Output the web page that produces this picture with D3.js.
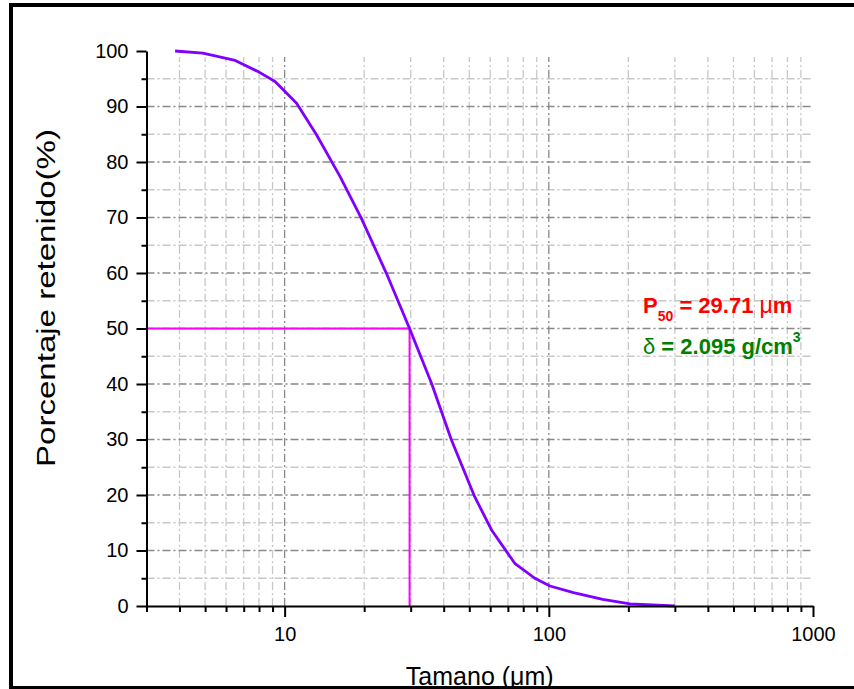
<!DOCTYPE html>
<html>
<head>
<meta charset="utf-8">
<script src="https://cdn.jsdelivr.net/npm/d3@7"></script>
<style>
  html, body { margin: 0; padding: 0; background: #fff; }
  svg { display: block; font-family: Arial, "Liberation Sans", sans-serif; }
</style>
</head>
<body>
<svg id="chart" width="854" height="689"></svg>
<script>
// ---- data ----
const sizes    = [3.85, 4.9, 6.5, 8.0, 9.2, 11.1, 13.2, 16.2, 19.5, 24.3, 29.71, 36.0, 42.8, 52.4, 60.7, 74.3, 88.5, 101, 124, 160, 203, 300];
const retained = [100, 99.6, 98.3, 96.2, 94.5, 90.6, 84.9, 77.4, 69.9, 59.9, 50.0, 40.1, 29.9, 19.7, 13.7, 7.7, 5.0, 3.6, 2.4, 1.2, 0.4, 0];
const xMajorTicks = [10, 100, 1000];
const xMinorTicks = [3, 4, 5, 6, 7, 8, 9, 20, 30, 40, 50, 60, 70, 80, 90, 200, 300, 400, 500, 600, 700, 800, 900];
const yMajorTicks = [0, 10, 20, 30, 40, 50, 60, 70, 80, 90, 100];
const yMinorTicks = [5, 15, 25, 35, 45, 55, 65, 75, 85, 95];
const p50 = 29.71;
const p50Level = 50;
const xTitle = "Tamano (\u03bcm)";
const yTitle = "Porcentaje retenido(%)";

// ---- layout ----
const svg = d3.select("#chart");
const L = 146.5, R = 813, T = 51, B = 606;
const x = d3.scaleLog().domain([3, 1000]).range([L, R]);
const y = d3.scaleLinear().domain([0, 100]).range([B, T]);

// outer frame
svg.append("line").attr("x1", 11).attr("x2", 11).attr("y1", 3).attr("y2", 689).attr("stroke", "#000").attr("stroke-width", 4);
svg.append("line").attr("x1", 9).attr("x2", 854).attr("y1", 5).attr("y2", 5).attr("stroke", "#000").attr("stroke-width", 4);
svg.append("line").attr("x1", 9).attr("x2", 854).attr("y1", 687.5).attr("y2", 687.5).attr("stroke", "#000").attr("stroke-width", 3);

// grid
const grid = svg.append("g");
const dash = "8,3,2,3";
const xGridMinor = xMinorTicks.filter(v => v > 3);
grid.selectAll(".vgm").data(xGridMinor).join("line")
  .attr("x1", d => x(d)).attr("x2", d => x(d)).attr("y1", B).attr("y2", T + 6)
  .attr("stroke", "#c8c8c8").attr("stroke-width", 1.3).attr("stroke-dasharray", dash);
grid.selectAll(".hgm").data(yMinorTicks).join("line")
  .attr("x1", L).attr("x2", 811).attr("y1", d => y(d)).attr("y2", d => y(d))
  .attr("stroke", "#c8c8c8").attr("stroke-width", 1.3).attr("stroke-dasharray", dash);
grid.selectAll(".vgM").data(xMajorTicks.filter(v => v < 1000)).join("line")
  .attr("x1", d => x(d)).attr("x2", d => x(d)).attr("y1", B).attr("y2", T + 6)
  .attr("stroke", "#888").attr("stroke-width", 1.3).attr("stroke-dasharray", dash);
grid.selectAll(".hgM").data(yMajorTicks.filter(v => v > 0 && v < 100)).join("line")
  .attr("x1", L).attr("x2", 811).attr("y1", d => y(d)).attr("y2", d => y(d))
  .attr("stroke", "#888").attr("stroke-width", 1.3).attr("stroke-dasharray", dash);

// P50 guide lines
svg.append("line").attr("x1", L).attr("x2", x(p50)).attr("y1", y(p50Level)).attr("y2", y(p50Level))
  .attr("stroke", "#ff00ff").attr("stroke-width", 2);
svg.append("line").attr("x1", x(p50)).attr("x2", x(p50)).attr("y1", y(p50Level)).attr("y2", y(0))
  .attr("stroke", "#ff00ff").attr("stroke-width", 2);

// curve
const pts = sizes.map((s, i) => [s, retained[i]]);
svg.append("path").datum(pts)
  .attr("d", d3.line().x(d => x(d[0])).y(d => y(d[1])))
  .attr("fill", "none").attr("stroke", "#8000ff").attr("stroke-width", 2.8).attr("stroke-linejoin", "round");

// axes
function styleAxis(g) {
  g.selectAll("path").attr("stroke", "#000").attr("stroke-width", 2);
  g.selectAll("line").attr("stroke", "#000").attr("stroke-width", 2);
  g.selectAll("text").attr("fill", "#000").attr("font-size", 20).attr("font-family", "Arial, 'Liberation Sans', sans-serif");
}
const xAxisMinor = svg.append("g").attr("transform", `translate(0,${B})`)
  .call(d3.axisBottom(x).tickValues(xMinorTicks).tickSize(6).tickSizeOuter(0).tickFormat(""));
styleAxis(xAxisMinor);
const xAxisMajor = svg.append("g").attr("transform", `translate(0,${B})`)
  .call(d3.axisBottom(x).tickValues(xMajorTicks).tickSize(11).tickSizeOuter(0).tickPadding(10).tickFormat(d3.format("d")));
styleAxis(xAxisMajor);
xAxisMajor.select("path").remove();

const yAxisMinor = svg.append("g").attr("transform", `translate(${L},0)`)
  .call(d3.axisLeft(y).tickValues(yMinorTicks).tickSize(5).tickSizeOuter(0).tickFormat(""));
styleAxis(yAxisMinor);
const yAxisMajor = svg.append("g").attr("transform", `translate(${L},0)`)
  .call(d3.axisLeft(y).tickValues(yMajorTicks).tickSize(10).tickSizeOuter(0).tickPadding(8).tickFormat(d3.format("d")));
styleAxis(yAxisMajor);
yAxisMajor.select("path").remove();

// axis titles
svg.append("text").attr("x", (L + R) / 2).attr("y", 685).attr("text-anchor", "middle")
  .attr("font-size", 25).attr("fill", "#000").text(xTitle);
svg.append("text").attr("transform", "translate(55,298) rotate(-90)").attr("text-anchor", "middle")
  .attr("font-size", 25).attr("fill", "#000")
  .attr("textLength", 338).attr("lengthAdjust", "spacingAndGlyphs").text(yTitle);

// annotations
const a1 = svg.append("text").attr("x", 643).attr("y", 313).attr("font-size", 22).attr("font-weight", "bold").attr("fill", "#ff0000");
a1.append("tspan").text("P");
a1.append("tspan").attr("dy", 8).attr("font-size", 14).text("50");
a1.append("tspan").attr("dy", -8).text(" = 29.71 ");
a1.append("tspan").attr("font-weight", "normal").attr("font-size", 23).text("\u03bc");
a1.append("tspan").text("m");

const a2 = svg.append("text").attr("x", 643).attr("y", 354).attr("font-size", 22).attr("font-weight", "bold").attr("fill", "#008000");
a2.append("tspan").attr("font-weight", "normal").text("\u03b4");
a2.append("tspan").text(" = 2.095 g/cm");
a2.append("tspan").attr("dy", -12).attr("font-size", 14).text("3");
</script>
</body>
</html>
